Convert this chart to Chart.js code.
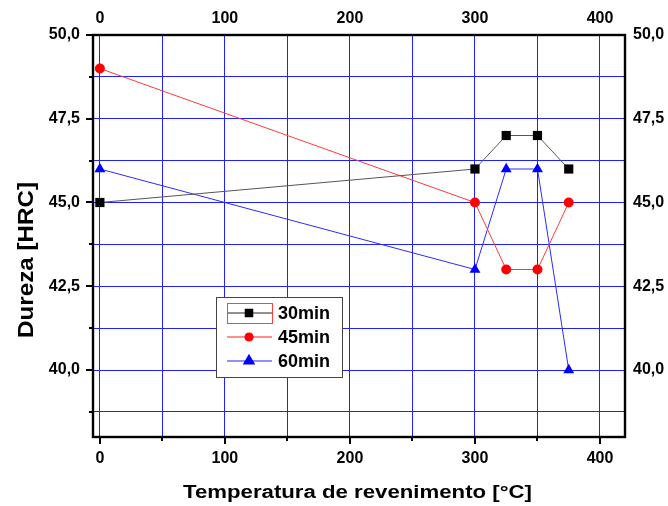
<!DOCTYPE html>
<html>
<head>
<meta charset="utf-8">
<script src="https://cdn.jsdelivr.net/npm/chart.js@4/dist/chart.umd.min.js"></script>
<style>
html,body{margin:0;padding:0;background:#fff;}
#wrap{width:668px;height:506px;}
</style>
</head>
<body>
<div id="wrap"><canvas id="c" width="668" height="506"></canvas></div>
<script>
const temperatures = [0, 300, 325, 350, 375];
const seriesNames = ['30min', '45min', '60min'];
const hardness30 = [45, 46, 47, 47, 46];
const hardness45 = [49, 45, 43, 43, 45];
const hardness60 = [46, 43, 46, 46, 40];
const xTicks = [0, 50, 100, 150, 200, 250, 300, 350, 400];
const xLabelTicks = [0, 100, 200, 300, 400];
const yTicks = [38.75, 40, 41.25, 42.5, 43.75, 45, 46.25, 47.5, 48.75, 50];
const yLabelTicks = [40, 42.5, 45, 47.5, 50];
const xTitle = 'Temperatura de revenimento [°C]';
const yTitle = 'Dureza [HRC]';

const FONT = "'Liberation Sans', Arial, sans-serif";
const GRID = '#1f1fff';

function pts(ys){ return temperatures.map((x,i)=>({x:x,y:ys[i]})); }
function fmtY(v){ return yLabelTicks.includes(v) ? v.toFixed(1).replace('.', ',') : ''; }
function fmtX(v){ return xLabelTicks.includes(v) ? String(v) : ''; }

function stretchedText(ctx, text, cx, cy, font, targetLen, rotate){
  ctx.save();
  ctx.font = font;
  const w = ctx.measureText(text).width;
  const sx = targetLen / w;
  ctx.translate(cx, cy);
  if (rotate) ctx.rotate(-Math.PI / 2);
  ctx.scale(sx, 1);
  ctx.textAlign = 'center';
  ctx.textBaseline = 'alphabetic';
  ctx.fillStyle = '#000';
  ctx.fillText(text, 0, 0);
  ctx.restore();
}

const framePlugin = {
  id: 'frame',
  afterDatasetsDraw(chart){
    const {ctx, chartArea: a} = chart;
    ctx.save();
    ctx.strokeStyle = '#000';
    ctx.lineWidth = 2;
    const ys = chart.scales.y, xs = chart.scales.x;
    yTicks.forEach(v=>{
      const py = Math.round(ys.getPixelForValue(v));
      const len = yLabelTicks.includes(v) ? 7 : 4;
      ctx.beginPath(); ctx.moveTo(a.left - len, py); ctx.lineTo(a.left, py); ctx.stroke();
    });
    xTicks.forEach(v=>{
      const px = Math.round(xs.getPixelForValue(v));
      const len = xLabelTicks.includes(v) ? 7 : 4;
      ctx.beginPath(); ctx.moveTo(px, a.bottom); ctx.lineTo(px, a.bottom + len); ctx.stroke();
    });
    ctx.lineWidth = 2.4;
    ctx.strokeRect(a.left, a.top, a.right - a.left, a.bottom - a.top);
    ctx.restore();
  },
  afterDraw(chart){
    const ctx = chart.ctx;
    stretchedText(ctx, xTitle, 357.5, 498, 'bold 18px ' + FONT, 349, false);
    stretchedText(ctx, yTitle, 33, 260, 'bold 22px ' + FONT, 156, true);
    ctx.save();
    const bx = 216, by = 297, bw = 126, bh = 80;
    ctx.fillStyle = '#fff';
    ctx.fillRect(bx, by, bw, bh);
    ctx.strokeStyle = '#444';
    ctx.lineWidth = 1;
    ctx.strokeRect(bx + 0.5, by + 0.5, bw, bh);
    const rows = [313, 337, 361];
    chart.data.datasets.forEach((ds, i)=>{
      const y = rows[i];
      ctx.strokeStyle = ds.legendLine;
      ctx.lineWidth = 1.2;
      ctx.beginPath(); ctx.moveTo(227, y); ctx.lineTo(272, y); ctx.stroke();
      ctx.fillStyle = ds.pointBackgroundColor;
      ctx.strokeStyle = ds.pointBackgroundColor;
      Chart.helpers.drawPoint(ctx, {pointStyle: ds.pointStyle, rotation: 0, borderWidth: 0.01, radius: ds.legendRadius}, 249, y);
      ctx.fillStyle = '#000';
      ctx.font = 'bold 18px ' + FONT;
      ctx.textBaseline = 'middle';
      ctx.textAlign = 'left';
      ctx.fillText(ds.label, 278, y + 1);
    });
    ctx.strokeStyle = '#ff4040';
    ctx.lineWidth = 1;
    ctx.strokeRect(227.5, 303.5, 45, 20);
    ctx.restore();
  }
};

new Chart(document.getElementById('c'), {
  type: 'scatter',
  data: {
    datasets: [
      {label: seriesNames[0], data: pts(hardness30), showLine: true, borderColor: '#555555', borderWidth: 1, legendLine: '#222', legendRadius: 5.2,
       pointStyle: 'rect', pointRadius: 6.5, pointBackgroundColor: '#000', pointBorderWidth: 0},
      {label: seriesNames[1], data: pts(hardness45), showLine: true, borderColor: '#ff3a3a', borderWidth: 1, legendLine: '#ff2020', legendRadius: 4,
       pointStyle: 'circle', pointRadius: 5, pointBackgroundColor: '#ff0000', pointBorderWidth: 0},
      {label: seriesNames[2], data: pts(hardness60), showLine: true, borderColor: '#2a2aff', borderWidth: 1, legendLine: '#2020ff', legendRadius: 6,
       pointStyle: 'triangle', pointRadius: 6.3, pointBackgroundColor: '#0000ff', pointBorderWidth: 0}
    ]
  },
  options: {
    responsive: false,
    animation: false,
    devicePixelRatio: 1,
    layout: {padding: 0},
    plugins: {legend: {display: false}, tooltip: {enabled: false}},
    elements: {line: {tension: 0}},
    scales: {
      x: {
        type: 'linear', position: 'bottom', min: -5.5, max: 420,
        afterBuildTicks: s => { s.ticks = xTicks.map(v=>({value:v})); },
        afterFit: s => { s.height = 69; },
        grid: {color: GRID, lineWidth: 1, drawTicks: false},
        border: {display: false},
        ticks: {callback: v => fmtX(v), autoSkip: false, maxRotation: 0, padding: 12,
                color: '#000', font: {family: FONT, size: 16, weight: 'bold'}}
      },
      x2: {
        type: 'linear', position: 'top', min: -5.5, max: 420,
        afterBuildTicks: s => { s.ticks = xTicks.map(v=>({value:v})); },
        afterFit: s => { s.height = 35; },
        grid: {drawOnChartArea: false, drawTicks: false},
        border: {display: false},
        ticks: {callback: v => fmtX(v), autoSkip: false, maxRotation: 0, padding: 7,
                color: '#000', font: {family: FONT, size: 16, weight: 'bold'}}
      },
      y: {
        type: 'linear', position: 'left', min: 38, max: 50,
        afterBuildTicks: s => { s.ticks = yTicks.map(v=>({value:v})); },
        afterFit: s => { s.width = 93; },
        grid: {color: GRID, lineWidth: 1, drawTicks: false},
        border: {display: false},
        ticks: {callback: v => fmtY(v), autoSkip: false, padding: 13,
                color: '#000', font: {family: FONT, size: 16, weight: 'bold'}}
      },
      y2: {
        type: 'linear', position: 'right', min: 38, max: 50,
        afterBuildTicks: s => { s.ticks = yTicks.map(v=>({value:v})); },
        afterFit: s => { s.width = 43; },
        grid: {drawOnChartArea: false, drawTicks: false},
        border: {display: false},
        ticks: {callback: v => fmtY(v), autoSkip: false, padding: 8,
                color: '#000', font: {family: FONT, size: 16, weight: 'bold'}}
      }
    }
  },
  plugins: [framePlugin]
});
</script>
</body>
</html>
